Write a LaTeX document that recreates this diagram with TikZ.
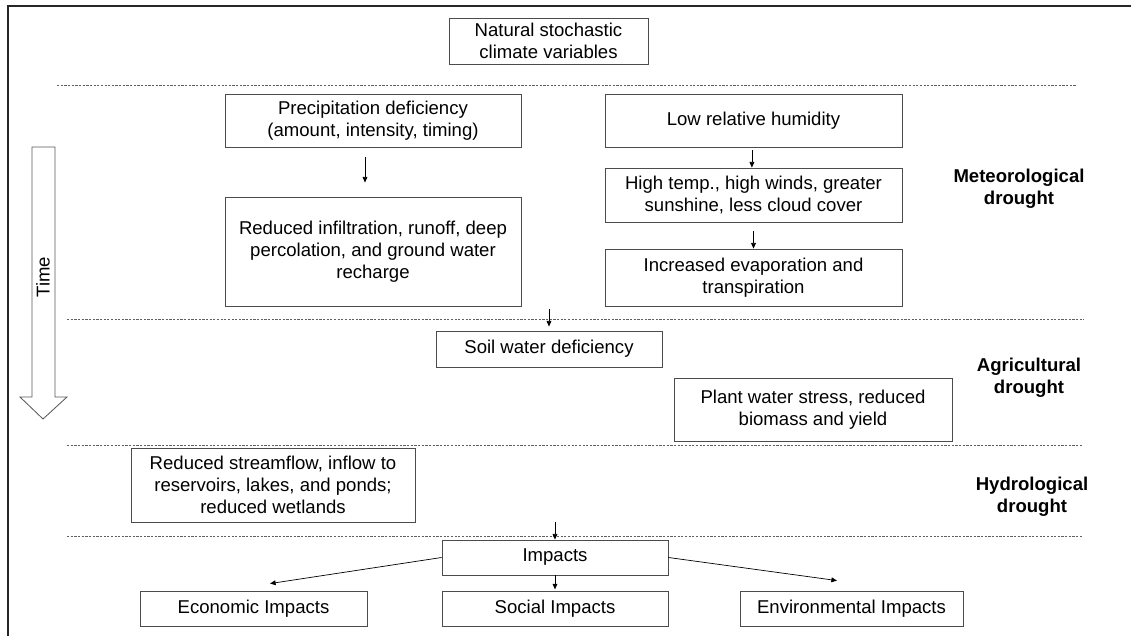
\documentclass[tikz,border=0pt]{standalone}
\usepackage{fontspec}
\setmainfont{Liberation Sans}
\usetikzlibrary{arrows.meta,calc}

\begin{document}
\begin{tikzpicture}[
    x=0.025cm, y=-0.025cm,
    box/.style={draw=black!70, line width=0.6pt, fill=white, align=center, inner sep=2pt,
        font=\fontsize{13.2}{15.8}\selectfont},
    stage label/.style={align=center, font=\fontsize{13.2}{15.8}\selectfont\bfseries},
    flow/.style={-{Triangle[length=4pt,width=3.4pt]}, line width=0.5pt, black},
    divider/.style={gray!75!black, line width=0.5pt, dash pattern=on 1.6pt off 1pt}
]
\useasboundingbox (0,0) rectangle (1131,636);

% Frame
\draw[line width=1.6pt, black!85] (1131,6) -- (8,6) -- (8,636);

% Dividers
\draw[divider] (57,85) -- (1076,85);
\draw[divider] (67,319) -- (1084,319);
\draw[divider] (67,445) -- (1082,445);
\draw[divider] (67,536) -- (1082,536);

% Time arrow
\draw[black!65, line width=0.6pt, fill=white]
    (32,147) -- (55,147) -- (55,397) -- (67,397) -- (43,419) -- (20,397) -- (32,397) -- cycle;
\node[rotate=90, font=\fontsize{13.2}{15.8}\selectfont] (time) at (43,277) {Time};

% Top
\node[box, minimum width=4.975cm, minimum height=1.15cm] (climate) at (548.5,41)
    {Natural stochastic\\climate variables};

% Meteorological drought
\node[box, minimum width=7.4cm, minimum height=1.325cm] (precip) at (373,120.5)
    {Precipitation deficiency\\(amount, intensity, timing)};
\node[box, minimum width=7.4cm, minimum height=2.725cm] (infilt) at (373,251.5)
    {Reduced infiltration, runoff, deep\\percolation, and ground water\\recharge};
\node[box, minimum width=7.425cm, minimum height=1.325cm] (humidity) at (753.5,120.5)
    {Low relative humidity};
\node[box, minimum width=7.425cm, minimum height=1.35cm] (hightemp) at (753.5,195)
    {High temp., high winds, greater\\sunshine, less cloud cover};
\node[box, minimum width=7.425cm, minimum height=1.425cm] (evap) at (753.5,277.5)
    {Increased evaporation and\\transpiration};
\draw[flow, shorten <=0.25cm, shorten >=0.35cm] ([xshift=-0.2cm]precip.south) -- ([xshift=-0.2cm]infilt.north);
\draw[flow, shorten <=0.075cm] ([xshift=-0.04cm]humidity.south) -- ([xshift=-0.04cm]hightemp.north);
\draw[flow, shorten <=0.225cm] (hightemp) -- (evap);

% Agricultural drought
\node[box, minimum width=5.65cm, minimum height=0.9cm] (soil) at (549,349)
    {Soil water deficiency};
\node[box, minimum width=6.95cm, minimum height=1.575cm] (plant) at (813,409.5)
    {Plant water stress, reduced\\biomass and yield};
\coordinate (soilin) at (549,309);
\draw[flow, shorten >=0.1cm] (soilin) -- (soil);

% Hydrological drought
\node[box, minimum width=7.1cm, minimum height=1.85cm] (stream) at (273,485)
    {Reduced streamflow, inflow to\\reservoirs, lakes, and ponds;\\reduced wetlands};

% Impacts
\node[box, minimum width=5.65cm, minimum height=0.875cm] (impacts) at (555,557.5)
    {Impacts};
\node[box, minimum width=5.675cm, minimum height=0.875cm] (economic) at (253.5,608.5)
    {Economic Impacts};
\node[box, minimum width=5.65cm, minimum height=0.875cm] (social) at (555,608.5)
    {Social Impacts};
\node[box, minimum width=5.575cm, minimum height=0.875cm] (environ) at (851.5,608.5)
    {Environmental Impacts};
\coordinate (impin) at (555,522);
\draw[flow] (impin) -- (impacts);
\draw[flow, shorten >=0.03cm] (impacts) -- (social);
\draw[flow] (impacts.west) -- ($(economic.north)+(16.5,-7)$);
\draw[flow] (impacts.east) -- ($(environ.north)+(-14.5,-10)$);

% Stage labels
\node[stage label] (meteo) at (1019,189) {Meteorological\\drought};
\node[stage label] (agri) at (1029,378) {Agricultural\\drought};
\node[stage label] (hydro) at (1032,497) {Hydrological\\drought};

\end{tikzpicture}
\end{document}
